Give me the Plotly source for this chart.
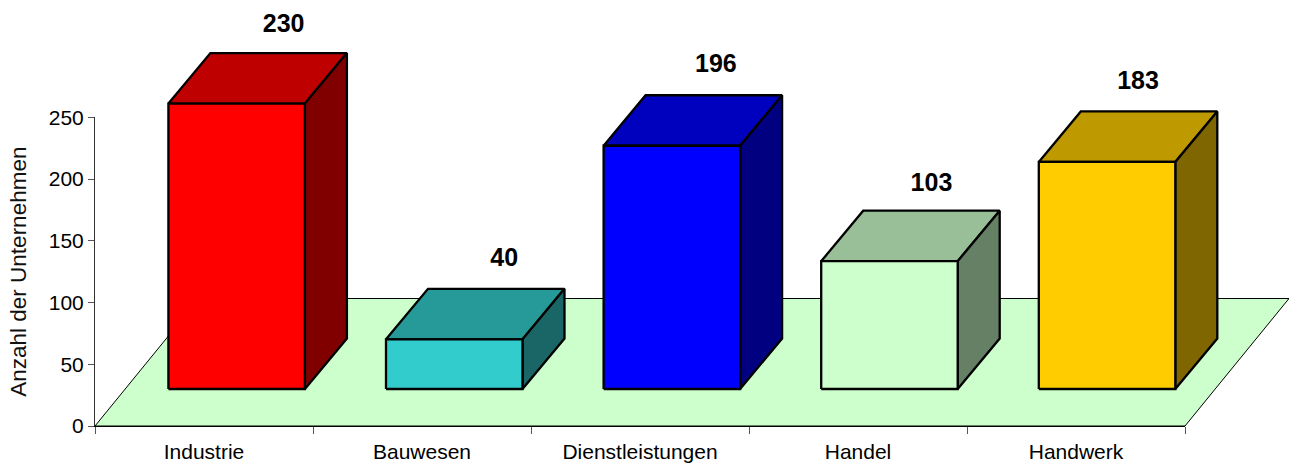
import plotly.graph_objects as go

# --- data ---
categories = ["Industrie", "Bauwesen", "Dienstleistungen", "Handel", "Handwerk"]
values = [230, 40, 196, 103, 183]
y_ticks = [0, 50, 100, 150, 200, 250]
front_colors = ["#FF0000", "#33CCCC", "#0000FF", "#CCFFCC", "#FFCC00"]
top_colors = ["#BF0000", "#269999", "#0000BF", "#99BF99", "#BF9900"]
side_colors = ["#800000", "#1A6666", "#000080", "#668066", "#806600"]
label_nudge_x = [5, 8, 2, 0, -11]  # px offset of value labels from the bar's back-top centre
label_nudge_y = [-1.5, 0, 1, -3.5, -0.5]

# --- chart geometry ---
W, H = 1289, 464
AX_L, AX_R, AX_T, AX_B = 95, 1185, 117.3, 426
PX_CAT = (AX_R - AX_L) / len(categories)
PX_VAL = (AX_B - AX_T) / 250
BAR_GAIN = 1.005
cat_unit = lambda px: px / PX_CAT
val_unit = lambda px: px / PX_VAL

BAR_LEFT = cat_unit(73.4)
BAR_STEP = cat_unit(217.6)
BAR_W = cat_unit(136.5)
BASE = val_unit(37)
DX, DY = cat_unit(42), val_unit(50.5)
FLOOR_DX, FLOOR_DY = cat_unit(104), val_unit(127.5)

fig = go.Figure()


def poly(xs, ys, fill, lw):
    fig.add_trace(go.Scatter(
        x=xs + xs[:1], y=ys + ys[:1], mode="lines", fill="toself", fillcolor=fill,
        line=dict(color="#000000", width=lw, shape="linear"), hoverinfo="skip", showlegend=False,
    ))


n = len(categories)
poly([0, n, n + FLOOR_DX, FLOOR_DX], [0, 0, FLOOR_DY, FLOOR_DY], "#CCFFCC", 1)

label_x, label_y, label_t = [], [], []
for i, v in enumerate(values):
    x0 = BAR_LEFT + i * BAR_STEP
    x1 = x0 + BAR_W
    y0, y1 = BASE, BASE + v * BAR_GAIN
    poly([x0, x1, x1 + DX, x0 + DX], [y1, y1, y1 + DY, y1 + DY], top_colors[i], 2.3)
    poly([x1, x1 + DX, x1 + DX, x1], [y0, y0 + DY, y1 + DY, y1], side_colors[i], 2.3)
    poly([x0, x1, x1, x0], [y0, y0, y1, y1], front_colors[i], 2.3)
    label_x.append((x0 + x1) / 2 + DX + cat_unit(label_nudge_x[i]))
    label_y.append(y1 + DY + val_unit(29 + label_nudge_y[i]))
    label_t.append(str(v))

fig.add_trace(go.Scatter(
    x=label_x, y=label_y, text=label_t, mode="text", textposition="middle center",
    textfont=dict(family="Liberation Sans", size=25, color="#000000", weight="bold"),
    hoverinfo="skip", showlegend=False,
))

# real axes: category axis with ticks on boundaries, value axis 0-250
fig.add_trace(go.Scatter(
    x=categories, y=values, xaxis="x2", yaxis="y2", mode="markers",
    marker=dict(opacity=0, size=1), hoverinfo="skip", showlegend=False,
))

axis_font = dict(family="Liberation Sans", size=21, color="#000000")
title_font = dict(family="Liberation Sans", size=22.5, color="#111111")
fig.update_layout(
    width=W, height=H, margin=dict(l=0, r=0, t=0, b=0), autosize=False,
    paper_bgcolor="#FFFFFF", plot_bgcolor="rgba(0,0,0,0)", showlegend=False,
    xaxis=dict(domain=[0, 1], range=[cat_unit(-AX_L), cat_unit(W - AX_L)], visible=False, fixedrange=True),
    yaxis=dict(domain=[0, 1], range=[val_unit(AX_B - H), val_unit(AX_B)], visible=False, fixedrange=True),
    xaxis2=dict(
        domain=[AX_L / W, AX_R / W], anchor="y2", type="category",
        categoryorder="array", categoryarray=categories, range=[-0.5, n - 0.5],
        tickson="boundaries", ticks="outside", ticklen=7, tickwidth=1, tickcolor="#555555",
        showline=True, linecolor="#000000", linewidth=1, showgrid=False, zeroline=False,
        tickfont=axis_font, fixedrange=True, automargin=False, ticklabelstandoff=7,
    ),
    yaxis2=dict(
        domain=[(H - AX_B) / H, (H - AX_T) / H], anchor="x2", range=[0, 250],
        tickvals=y_ticks, ticks="outside", ticklen=6, tickwidth=1, tickcolor="#555555",
        showline=True, linecolor="#333333", linewidth=1, showgrid=False, zeroline=False,
        tickfont=axis_font, fixedrange=True, automargin=False,
        title=dict(text="Anzahl der Unternehmen", font=title_font, standoff=15),
    ),
)

fig.write_html("out.html", config=dict(displayModeBar=False),
               post_script="document.body.style.margin='0';")
